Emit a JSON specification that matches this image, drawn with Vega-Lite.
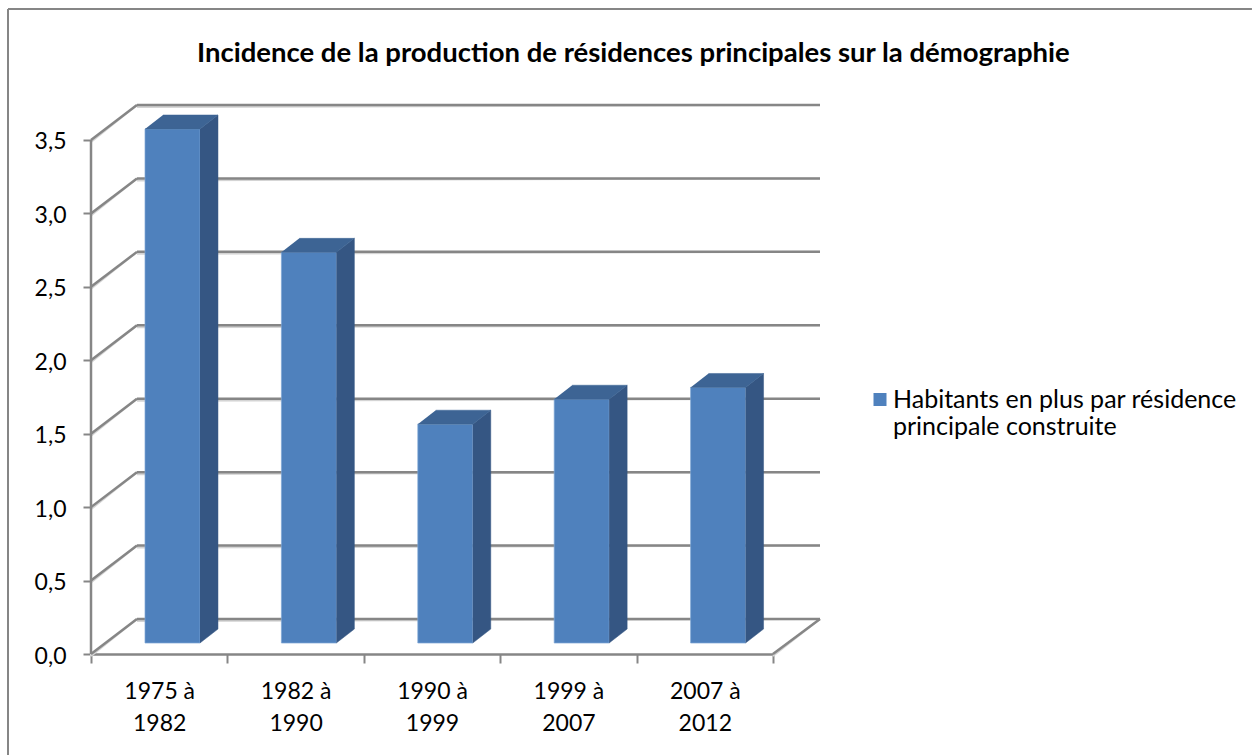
{
"$schema":"https://vega.github.io/schema/vega-lite/v6.json",
"width":729,"height":549,
"autosize":{"type":"none"},
"padding":{"left":91,"top":105,"right":432,"bottom":101},
"background":"white",
"view":{"stroke":null},
"title":{"text":"Incidence de la production de résidences principales sur la démographie","anchor":"start","frame":"group","dx":106,"dy":98,"offset":38,"font":"Lato","fontSize":27.5,"fontWeight":"bold","color":"#000000"},
"datasets":{
"bars":[
{"period":"1975 à 1982","y":3.5,"series":"Habitants en plus par résidence principale construite"},
{"period":"1982 à 1990","y":2.66,"series":"Habitants en plus par résidence principale construite"},
{"period":"1990 à 1999","y":1.49,"series":"Habitants en plus par résidence principale construite"},
{"period":"1999 à 2007","y":1.66,"series":"Habitants en plus par résidence principale construite"},
{"period":"2007 à 2012","y":1.74,"series":"Habitants en plus par résidence principale construite"}],
"frame":[
{"x":-0.6085,"x2":8.512,"y":4.392,"y2":4.392},
{"x":-0.6085,"x2":-0.6085,"y":4.392,"y2":-0.688}],
"grid":[
{"x":0.337,"x2":5.345,"y":0.238,"y2":0.238},
{"x":0.337,"x2":5.345,"y":0.738,"y2":0.738},
{"x":0.337,"x2":5.345,"y":1.238,"y2":1.238},
{"x":0.337,"x2":5.345,"y":1.738,"y2":1.738},
{"x":0.337,"x2":5.345,"y":2.238,"y2":2.238},
{"x":0.337,"x2":5.345,"y":2.738,"y2":2.738},
{"x":0.337,"x2":5.345,"y":3.238,"y2":3.238},
{"x":0.337,"x2":5.345,"y":3.738,"y2":3.738},
{"x":0,"x2":0.337,"y":0,"y2":0.238},
{"x":0,"x2":0.337,"y":0.5,"y2":0.738},
{"x":0,"x2":0.337,"y":1,"y2":1.238},
{"x":0,"x2":0.337,"y":1.5,"y2":1.738},
{"x":0,"x2":0.337,"y":2,"y2":2.238},
{"x":0,"x2":0.337,"y":2.5,"y2":2.738},
{"x":0,"x2":0.337,"y":3,"y2":3.238},
{"x":0,"x2":0.337,"y":3.5,"y2":3.738},
{"x":0,"x2":0,"y":0,"y2":3.5},
{"x":5,"x2":5.345,"y":0,"y2":0.238}],
"faces":[
{"bar":0,"face":"side","n":1,"x":0.799,"y":0.075},{"bar":0,"face":"side","n":2,"x":0.931,"y":0.17},{"bar":0,"face":"side","n":3,"x":0.931,"y":3.67},{"bar":0,"face":"side","n":4,"x":0.799,"y":3.575},
{"bar":1,"face":"side","n":1,"x":1.799,"y":0.075},{"bar":1,"face":"side","n":2,"x":1.931,"y":0.17},{"bar":1,"face":"side","n":3,"x":1.931,"y":2.83},{"bar":1,"face":"side","n":4,"x":1.799,"y":2.735},
{"bar":2,"face":"side","n":1,"x":2.799,"y":0.075},{"bar":2,"face":"side","n":2,"x":2.931,"y":0.17},{"bar":2,"face":"side","n":3,"x":2.931,"y":1.66},{"bar":2,"face":"side","n":4,"x":2.799,"y":1.565},
{"bar":3,"face":"side","n":1,"x":3.799,"y":0.075},{"bar":3,"face":"side","n":2,"x":3.931,"y":0.17},{"bar":3,"face":"side","n":3,"x":3.931,"y":1.83},{"bar":3,"face":"side","n":4,"x":3.799,"y":1.735},
{"bar":4,"face":"side","n":1,"x":4.799,"y":0.075},{"bar":4,"face":"side","n":2,"x":4.931,"y":0.17},{"bar":4,"face":"side","n":3,"x":4.931,"y":1.91},{"bar":4,"face":"side","n":4,"x":4.799,"y":1.815},
{"bar":0,"face":"top","n":1,"x":0.396,"y":3.575},{"bar":0,"face":"top","n":2,"x":0.799,"y":3.575},{"bar":0,"face":"top","n":3,"x":0.931,"y":3.67},{"bar":0,"face":"top","n":4,"x":0.528,"y":3.67},
{"bar":1,"face":"top","n":1,"x":1.396,"y":2.735},{"bar":1,"face":"top","n":2,"x":1.799,"y":2.735},{"bar":1,"face":"top","n":3,"x":1.931,"y":2.83},{"bar":1,"face":"top","n":4,"x":1.528,"y":2.83},
{"bar":2,"face":"top","n":1,"x":2.396,"y":1.565},{"bar":2,"face":"top","n":2,"x":2.799,"y":1.565},{"bar":2,"face":"top","n":3,"x":2.931,"y":1.66},{"bar":2,"face":"top","n":4,"x":2.528,"y":1.66},
{"bar":3,"face":"top","n":1,"x":3.396,"y":1.735},{"bar":3,"face":"top","n":2,"x":3.799,"y":1.735},{"bar":3,"face":"top","n":3,"x":3.931,"y":1.83},{"bar":3,"face":"top","n":4,"x":3.528,"y":1.83},
{"bar":4,"face":"top","n":1,"x":4.396,"y":1.815},{"bar":4,"face":"top","n":2,"x":4.799,"y":1.815},{"bar":4,"face":"top","n":3,"x":4.931,"y":1.91},{"bar":4,"face":"top","n":4,"x":4.528,"y":1.91}]
},
"resolve":{"scale":{"x":"independent","color":"independent"}},
"encoding":{"y":{"field":"y","type":"quantitative","scale":{"domain":[0,3.738],"nice":false},
  "axis":{"title":null,"grid":false,"domain":false,"values":[0,0.5,1,1.5,2,2.5,3,3.5],"labelFont":"Lato","labelFontSize":23,"labelColor":"#000000","labelPadding":17,"labelOffset":2,"labelExpr":"replace(format(datum.value,'.1f'),'.',',')","tickColor":"#868686","tickWidth":2,"tickSize":8}}},
"layer":[
{"data":{"name":"frame"},
 "mark":{"type":"rule","stroke":"#868686","strokeWidth":2},
 "encoding":{"x":{"field":"x","type":"quantitative","scale":{"domain":[0,5.345],"nice":false,"zero":false},"axis":null},"x2":{"field":"x2"},"y2":{"field":"y2"}}},
{"data":{"name":"grid"},
 "mark":{"type":"rule","stroke":"#d4d4d4","strokeWidth":2,"yOffset":2},
 "encoding":{"x":{"field":"x","type":"quantitative","scale":{"domain":[0,5.345],"nice":false,"zero":false},"axis":null},"x2":{"field":"x2"},"y2":{"field":"y2"}}},
{"data":{"name":"grid"},
 "mark":{"type":"rule","stroke":"#868686","strokeWidth":2.5},
 "encoding":{"x":{"field":"x","type":"quantitative","scale":{"domain":[0,5.345],"nice":false,"zero":false},"axis":null},"x2":{"field":"x2"},"y2":{"field":"y2"}}},
{"data":{"name":"bars"},
 "mark":{"type":"bar","width":55,"xOffset":13.3,"yOffset":-11,"cornerRadius":0,"stroke":"#7FA6D6","strokeWidth":1,"strokeOpacity":0.7},
 "encoding":{
 "x":{"field":"period","type":"nominal","sort":null,"scale":{"range":[0,682],"paddingInner":0,"paddingOuter":0},
  "axis":{"title":null,"labelAngle":0,"labelFont":"Lato","labelFontSize":23,"labelColor":"#000000","labelPadding":17,"labelLineHeight":32,"labelExpr":"[slice(datum.label,0,6),slice(datum.label,7)]","tickBand":"extent","tickColor":"#868686","tickWidth":2,"tickSize":9,"domainColor":"#868686","domainWidth":2.5,"labelBaseline":"top"}},
 "color":{"field":"series","type":"nominal","scale":{"range":["#4F81BD"]},
  "legend":{"title":null,"orient":"none","legendX":776.5,"legendY":282,"symbolType":"square","symbolSize":169,"symbolStrokeWidth":0,"labelFont":"Lato","labelFontSize":25,"labelColor":"#000000","labelLimit":500,"labelOffset":0.5,"labelExpr":"['Habitants en plus par résidence','principale construite']","encode":{"labels":{"update":{"lineHeight":{"value":29}}}}}}}},
{"data":{"name":"faces"},
 "transform":[{"filter":"datum.face==='side'"}],
 "mark":{"type":"line","fill":"#355683","stroke":"#355683","strokeWidth":0.5},
 "encoding":{"x":{"field":"x","type":"quantitative","scale":{"domain":[0,5.345],"nice":false,"zero":false},"axis":null},
 "detail":{"field":"bar"},"order":{"field":"n"}}},
{"data":{"name":"faces"},
 "transform":[{"filter":"datum.face==='top'"}],
 "mark":{"type":"line","fill":"#3D6494","stroke":"#3D6494","strokeWidth":0.5},
 "encoding":{"x":{"field":"x","type":"quantitative","scale":{"domain":[0,5.345],"nice":false,"zero":false},"axis":null},
 "detail":{"field":"bar"},"order":{"field":"n"}}}
]
}
